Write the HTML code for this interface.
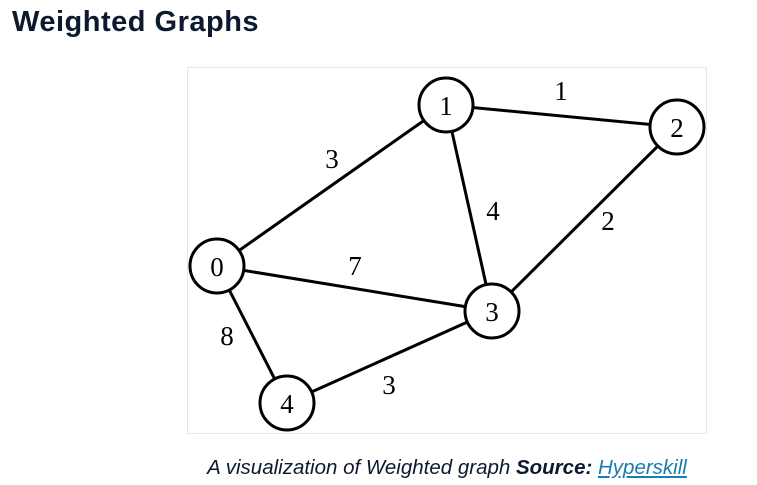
<!DOCTYPE html>
<html><head><meta charset="utf-8"><style>
html,body{margin:0;padding:0;background:#fff;width:757px;height:485px;overflow:hidden}
.t{position:absolute;left:12px;top:6px;font:bold 29px "Liberation Sans",sans-serif;color:#0b1a2e;letter-spacing:0.5px}
.c{position:absolute;left:0;width:894px;top:456px;text-align:center;font:italic 20.5px "Liberation Sans",sans-serif;color:#0b1a2e}
.c b{font-style:italic}
.c a{color:#1a7bb0;text-decoration:underline}
svg{position:absolute;left:0;top:0}
</style></head><body>
<div class="t">Weighted Graphs</div>
<svg width="757" height="485">
<rect x="187.5" y="67.5" width="519" height="366" fill="#fff" stroke="#e6e6e6"/>
<g stroke="#000" stroke-width="3">
<line x1="446" y1="105" x2="677" y2="127"/>
<line x1="446" y1="105" x2="217" y2="266"/>
<line x1="446" y1="105" x2="492" y2="311"/>
<line x1="677" y1="127" x2="492" y2="311"/>
<line x1="217" y1="266" x2="492" y2="311"/>
<line x1="217" y1="266" x2="287" y2="403"/>
<line x1="287" y1="403" x2="492" y2="311"/>
</g>
<g fill="#fff" stroke="#000" stroke-width="3">
<circle cx="446" cy="105" r="27"/><circle cx="677" cy="127" r="27"/>
<circle cx="217" cy="266" r="27"/><circle cx="492" cy="311" r="27"/>
<circle cx="287" cy="403" r="27"/>
</g>
<g font-family="Liberation Serif,serif" font-size="27" text-anchor="middle" fill="#000">
<text x="446" y="115">1</text><text x="677" y="137">2</text><text x="217" y="276">0</text>
<text x="492" y="321">3</text><text x="287" y="413">4</text>
<text x="561" y="100">1</text><text x="332" y="168">3</text><text x="493" y="220">4</text>
<text x="608" y="230">2</text><text x="355" y="275">7</text><text x="227" y="345">8</text>
<text x="389" y="394">3</text>
</g>
</svg>
<div class="c">A visualization of Weighted graph <b>Source:</b> <a>Hyperskill</a></div>
</body></html>
